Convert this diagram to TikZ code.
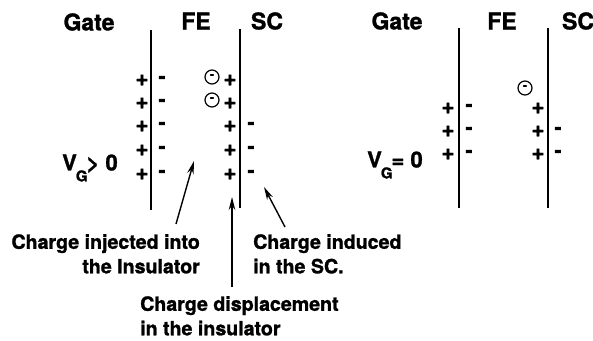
\documentclass[tikz,border=0pt]{standalone}
\usepackage{fontspec}
\setmainfont{TeX Gyre Heros}[BoldFeatures={FakeBold=1.3}]
\usetikzlibrary{arrows.meta}
\tikzset{
  x=1pt, y=-1pt,
  wall/.style={line width=2.2pt},
  hdr/.style={font=\bfseries\fontsize{23}{26}\selectfont, inner sep=0pt},
  plusq/.style={font=\bfseries\fontsize{22.5}{22.5}\selectfont, inner sep=0pt, text height=11.4pt, text depth=0pt},
  minusq/.style={font=\bfseries\fontsize{21}{21}\selectfont, inner sep=0pt, text height=6.6pt, text depth=-3.6pt},
  lbl/.style={font=\bfseries\fontsize{19.6}{24.5}\selectfont, inner sep=0pt},
  vg/.style={font=\bfseries\fontsize{22}{22}\selectfont, inner sep=0pt, anchor=west},
  ptr/.style={line width=1.4pt, -{Stealth[length=13pt,width=6.5pt]}},
  elec/.style={circle, draw, line width=1.2pt, minimum size=14pt, inner sep=0pt,
    font=\bfseries\fontsize{12}{12}\selectfont, text height=2.6pt, text depth=-1.8pt},
}
\begin{document}
\begin{tikzpicture}
\useasboundingbox (0,0) rectangle (593,340);
% ---------------- left panel ----------------
\node[hdr] (gateL) at (89,22) {Gate};
\node[hdr] (feL) at (196,21) {FE};
\node[hdr] (scL) at (267,21) {SC};
\coordinate (l1t) at (151,30); \coordinate (l1b) at (151,210);
\coordinate (l2t) at (240,29); \coordinate (l2b) at (240,208);
\draw[wall] (l1t) -- (l1b);
\draw[wall] (l2t) -- (l2b);
\foreach \y [count=\i] in {80,103,126,150,174} {
  \node[plusq] (gp\i) at (142,\y) {+};
  \node[minusq] (fm\i) at (162,\y) {-};
  \node[plusq] (fp\i) at (230,\y) {+};
}
\foreach \y [count=\i from 3] in {126,150,174} {
  \node[minusq] (sm\i) at (251,\y) {-};
}
\node[elec] (e1) at (212,77) {-};
\node[elec] (e2) at (212,100) {-};
\node[vg] (vgL) at (62,168) {V\kern-1pt\raisebox{-0.5em}{\fontsize{15}{15}\selectfont G}\kern-1pt> 0};
% labels
\node[lbl, align=right, anchor=north east] (injL) at (200,234) {Charge injected into\\the Insulator};
\node[lbl, align=left, anchor=north west] (indL) at (253,234) {Charge induced\\in the SC.};
\node[lbl, align=left, anchor=north west] (disL) at (140,296) {Charge displacement\\in the insulator};
% arrows
\coordinate (a1s) at (176,224); \coordinate (a1e) at (194,161);
\coordinate (a2s) at (232,287); \coordinate (a2e) at (232,197);
\coordinate (a3s) at (285,227); \coordinate (a3e) at (264,187);
\draw[ptr] (a1s) -- (a1e);
\draw[ptr] (a2s) -- (a2e);
\draw[ptr] (a3s) -- (a3e);
% ---------------- right panel ----------------
\node[hdr] (gateR) at (397,21) {Gate};
\node[hdr] (feR) at (502,21) {FE};
\node[hdr] (scR) at (578,21) {SC};
\coordinate (r1t) at (459,28); \coordinate (r1b) at (459,208);
\coordinate (r2t) at (548,28); \coordinate (r2b) at (548,208);
\draw[wall] (r1t) -- (r1b);
\draw[wall] (r2t) -- (r2b);
\foreach \y [count=\i] in {108,131,154} {
  \node[plusq] (rgp\i) at (448,\y) {+};
  \node[minusq] (rfm\i) at (469,\y) {-};
  \node[plusq] (rfp\i) at (538,\y) {+};
}
\foreach \y [count=\i from 2] in {131,154} {
  \node[minusq] (rsm\i) at (558,\y) {-};
}
\node[elec] (e3) at (525,88) {-};
\node[vg] (vgR) at (367,165) {V\kern-1pt\raisebox{-0.5em}{\fontsize{15}{15}\selectfont G}\kern-1pt= 0};
\end{tikzpicture}
\end{document}
